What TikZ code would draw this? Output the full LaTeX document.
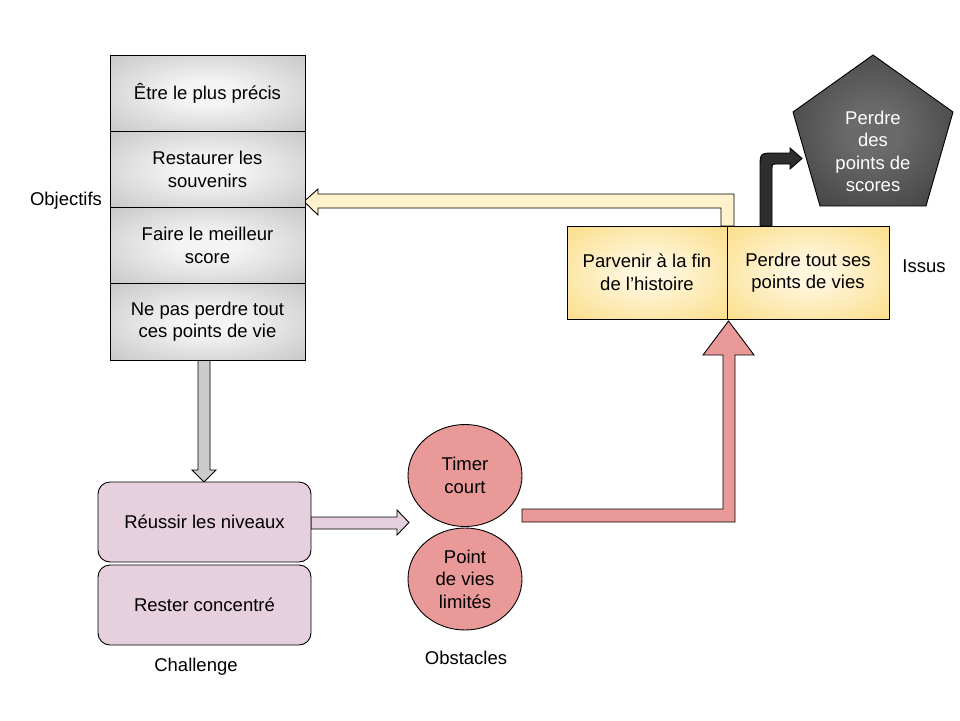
\documentclass[tikz,border=0pt]{standalone}
\usepackage{fontspec}
\setmainfont{Liberation Sans}
\usetikzlibrary{shapes.geometric}
\definecolor{cellin}{HTML}{F4F4F4}
\definecolor{cellout}{HTML}{B0B0B0}
\definecolor{grayarrow}{HTML}{CCCCCC}
\definecolor{pinkbox}{HTML}{E6D0DE}
\definecolor{redfill}{HTML}{EA9999}
\definecolor{orin}{HTML}{FFF6DE}
\definecolor{orout}{HTML}{F9D466}
\definecolor{cream}{HTML}{FFF2CC}
\definecolor{pentin}{HTML}{6A6A6A}
\definecolor{pentout}{HTML}{262626}
\definecolor{darkarrow}{HTML}{2E2E2E}
\pgfdeclareradialshading{cellshade}{\pgfpoint{0bp}{0bp}}{color(0bp)=(cellin); color(8bp)=(cellin); color(50bp)=(cellout); color(72bp)=(cellout)}
\pgfdeclareradialshading{orshade}{\pgfpoint{0bp}{0bp}}{color(0bp)=(orin); color(6bp)=(orin); color(48bp)=(orout); color(72bp)=(orout)}
\pgfdeclareradialshading{pentshade}{\pgfpoint{0bp}{0bp}}{color(0bp)=(pentin); color(8bp)=(pentin); color(50bp)=(pentout); color(72bp)=(pentout)}
\newcommand\diagfont{\fontsize{18.5}{22.5}\selectfont}
\begin{document}
\begin{tikzpicture}[x=1pt,y=-1pt,line width=0.9pt,
  every node/.style={font=\diagfont, align=center, inner sep=0pt},
  blockarrow/.style={draw=black, line join=miter},
  cell/.style={draw, rectangle, minimum width=195pt, minimum height=76.25pt, shading=cellshade},
  chal/.style={draw, rectangle, rounded corners=12pt, minimum width=213pt, minimum height=80pt, fill=pinkbox},
  obst/.style={draw, ellipse, minimum width=114pt, minimum height=102pt, fill=redfill},
  issue/.style={draw, rectangle, minimum height=93pt, shading=orshade},
  lbl/.style={}]
\fill[white] (0,0) rectangle (960,720);
\useasboundingbox (0,0) rectangle (960,720);

% block arrows
\draw[blockarrow, fill=grayarrow] (198,360) -- (198,470) -- (192,470) -- (204,482) -- (216,470) -- (210,470) -- (210,360) -- cycle;
\draw[blockarrow, fill=pinkbox] (311,517) -- (397,517) -- (397,510) -- (409,522.5) -- (397,535) -- (397,529) -- (311,529) -- cycle;
\draw[blockarrow, fill=redfill] (522,509) -- (723,509) -- (723,355) -- (703,355) -- (728.5,321) -- (754,355) -- (735,355) -- (735,522) -- (522,522) -- cycle;
\draw[blockarrow, fill=cream] (734,226) -- (734,194) -- (318,194) -- (318,189) -- (304,201.5) -- (318,215) -- (318,208) -- (721,208) -- (721,226) -- cycle;
\draw[blockarrow, fill=darkarrow] (760,226) -- (760,168) .. controls (760,153) .. (775,153) -- (790,153) -- (790,148) -- (802,158.5) -- (790,169) -- (790,164) -- (777,164) .. controls (772,164) .. (772,169) -- (772,226) -- cycle;

% objectives stack
\node[cell] (c1) at (207.5,93.125) {Être le plus précis};
\node[cell] (c2) at (207.5,169.375) {Restaurer les\\souvenirs};
\node[cell] (c3) at (207.5,245.625) {Faire le meilleur\\score};
\node[cell] (c4) at (207.5,321.875) {Ne pas perdre tout\\ces points de vie};

% challenge
\node[chal] (r1) at (204.5,522) {Réussir les niveaux};
\node[chal] (r2) at (204.5,605) {Rester concentré};

% obstacles
\node[obst] (o1) at (465,475.5) {Timer\\court};
\node[obst] (o2) at (465,579) {Point\\de vies\\limités};

% issues
\node[issue, minimum width=160pt] (i1) at (647,272.5) {Parvenir à la fin\\de l’histoire};
\node[issue, minimum width=162pt] (i2) at (808,272.5) {Perdre tout ses\\points de vies};

% pentagon
\draw[shading=pentshade] (873,55) -- (953,112) -- (926,206) -- (820,206) -- (793,112) -- cycle;
\node[text=white] (pent) at (873,151.5) {Perdre\\des\\points de\\scores};

% labels
\node[lbl] (lobj) at (66,201) {Objectifs};
\node[lbl] (lchal) at (196,667) {Challenge};
\node[lbl] (lobs) at (466,658) {Obstacles};
\node[lbl] (liss) at (924,266) {Issus};
\end{tikzpicture}
\end{document}
